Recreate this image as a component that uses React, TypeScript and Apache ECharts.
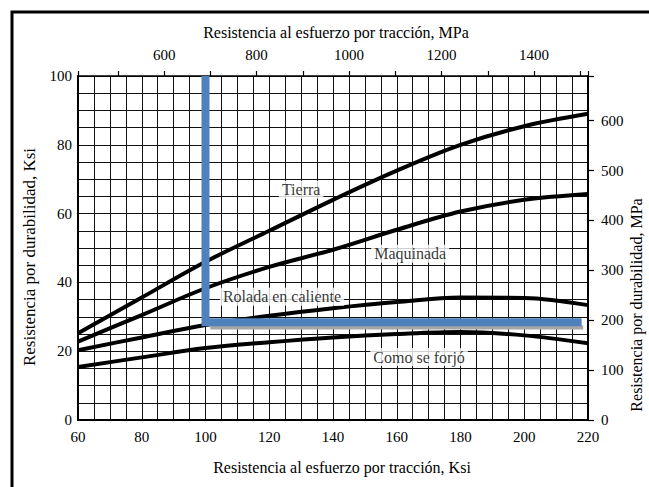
import React, { useEffect, useRef } from 'react';
import * as echarts from 'echarts';

const KSI_TO_MPA = 6.894757;
const FONT = "'Liberation Serif', 'Times New Roman', serif";

// Curves (x: tensile strength, ksi ; y: endurance strength, ksi)
const curveX = [60, 80, 100, 120, 140, 160, 180, 200, 220];
const tierra = [25.2, 35.6, 46, 55, 64, 72.5, 80, 85.4, 89];
const maquinada = [22.8, 30.5, 38.3, 44.5, 49.5, 55.3, 60.6, 64, 65.7];
const rolada = [20.3, 24, 27.6, 30.3, 32.5, 34.3, 35.6, 35.5, 33.4];
const forjo = [15.4, 18.2, 20.9, 22.6, 24, 25, 25.6, 24.6, 22.3];
const curveNames = ['Tierra', 'Maquinada', 'Rolada en caliente', 'Como se forjó'];
const curveLabelX = [130, 164.2, 124, 167];
const curveLabelY = [66.9, 48.3, 35.8, 18.3];

// Highlight guide (blue) and its grey shadow
const guideX = [100, 100, 218];
const guideY = [100, 28.4, 28.4];
const shadowX = [101.5, 218.5];
const shadowY = [26.9, 26.9];

// Axis ranges
const ksiXMin = 60, ksiXMax = 220, ksiXStep = 20;
const ksiYMin = 0, ksiYMax = 100, ksiYStep = 20;
const topLabels = [600, 800, 1000, 1200, 1400];
const rightLabels = [0, 100, 200, 300, 400, 500, 600];

const titleTop = 'Resistencia al esfuerzo por tracción, MPa';
const titleBottom = 'Resistencia al esfuerzo por tracción, Ksi';
const titleLeft = 'Resistencia por durabilidad, Ksi';
const titleRight = 'Resistencia por durabilidad, MPa';

export default function App() {
  const ref = useRef<HTMLDivElement>(null);
  useEffect(() => {
    if (!ref.current) return;
    const chart = echarts.init(ref.current, null, { renderer: 'svg' });
    const zip = (xs: number[], ys: number[]) => xs.map((x, i) => [x, ys[i]]);
    const curveData = [tierra, maquinada, rolada, forjo];
    const gridLine = { show: true, lineStyle: { color: '#111', width: 1 } };
    const lbl = { fontFamily: FONT, fontSize: 15, color: '#000' };
    const isWhole = (v: number, list: number[]) =>
      Math.abs(v - Math.round(v)) < 1e-6 && list.includes(Math.round(v));

    chart.setOption({
      animation: false,
      backgroundColor: '#fff',
      textStyle: { fontFamily: FONT },
      grid: { left: 78, top: 76, width: 510, height: 344, containLabel: false },
      xAxis: [
        {
          type: 'value', position: 'bottom', min: ksiXMin, max: ksiXMax, interval: ksiXStep,
          axisLine: { show: true, lineStyle: { color: '#000', width: 2 } },
          axisTick: { show: false },
          axisLabel: { ...lbl, margin: 9 },
          splitLine: gridLine,
          minorTick: { show: false, splitNumber: 4 },
          minorSplitLine: gridLine,
        },
        {
          type: 'value', position: 'top', min: ksiXMin * KSI_TO_MPA, max: ksiXMax * KSI_TO_MPA,
          splitNumber: 11, minInterval: 100, maxInterval: 100,
          axisLine: { show: true, onZero: false, lineStyle: { color: '#000', width: 1.5 } },
          axisTick: { show: true, inside: false, length: 5, lineStyle: { color: '#000', width: 1.2 } },
          axisLabel: {
            ...lbl, margin: 14,
            formatter: (v: number) => (isWhole(v, topLabels) ? String(Math.round(v)) : ''),
          },
          splitLine: { show: false },
        },
      ],
      yAxis: [
        {
          type: 'value', position: 'left', min: ksiYMin, max: ksiYMax, interval: ksiYStep,
          axisLine: { show: true, lineStyle: { color: '#000', width: 2 } },
          axisTick: { show: false },
          axisLabel: { ...lbl, margin: 6 },
          splitLine: gridLine,
          minorTick: { show: false, splitNumber: 4 },
          minorSplitLine: gridLine,
        },
        {
          type: 'value', position: 'right', min: 0, max: ksiYMax * KSI_TO_MPA, interval: 100,
          axisLine: { show: true, onZero: false, lineStyle: { color: '#000', width: 2 } },
          axisTick: { show: true, inside: false, length: 6, lineStyle: { color: '#000', width: 1.2 } },
          axisLabel: {
            ...lbl, margin: 13,
            formatter: (v: number) => (isWhole(v, rightLabels) ? String(Math.round(v)) : ''),
          },
          splitLine: { show: false },
        },
      ],
      graphic: [
        { type: 'rect', shape: { x: 12, y: 12, width: 700, height: 600 }, style: { fill: 'none', stroke: '#000', lineWidth: 3 }, silent: true },
        { type: 'text', x: 336, y: 32, style: { text: titleTop, fontFamily: FONT, fontSize: 16, fill: '#000', align: 'center', verticalAlign: 'middle' } },
        { type: 'text', x: 342, y: 467, style: { text: titleBottom, fontFamily: FONT, fontSize: 16, fill: '#000', align: 'center', verticalAlign: 'middle' } },
        { type: 'text', x: 29.5, y: 257, rotation: Math.PI / 2, style: { text: titleLeft, fontFamily: FONT, fontSize: 17, fill: '#000', align: 'center', verticalAlign: 'middle' } },
        { type: 'text', x: 636, y: 305, rotation: Math.PI / 2, style: { text: titleRight, fontFamily: FONT, fontSize: 16, fill: '#000', align: 'center', verticalAlign: 'middle' } },
      ],
      series: [
        ...curveData.map((ys, i) => ({
          type: 'line', name: curveNames[i], xAxisIndex: 0, yAxisIndex: 0,
          data: zip(curveX, ys), smooth: 0.35, showSymbol: false, symbol: 'none',
          lineStyle: { color: '#000', width: 4 }, z: 3,
        })),
        {
          type: 'line', name: 'shadow', xAxisIndex: 0, yAxisIndex: 0, data: zip(shadowX, shadowY),
          symbol: 'none', lineStyle: { color: '#a6a6a6', width: 4, cap: 'butt' }, z: 4,
        },
        {
          type: 'line', name: 'guide', xAxisIndex: 0, yAxisIndex: 0, data: zip(guideX, guideY),
          symbol: 'none', lineStyle: { color: '#4F81BD', width: 8, cap: 'butt', join: 'miter' }, z: 5,
        },
        {
          type: 'scatter', name: 'labels', xAxisIndex: 0, yAxisIndex: 0, symbolSize: 0, z: 6,
          data: curveLabelX.map((x, i) => ({ value: [x, curveLabelY[i]], name: curveNames[i] })),
          label: {
            show: true, position: 'inside', formatter: '{b}', fontFamily: FONT, fontSize: 16, color: '#000',
            backgroundColor: '#fff', padding: [1, 3],
          },
        },
      ],
    });
    return () => chart.dispose();
  }, []);
  return <div ref={ref} style={{ position: 'fixed', left: 0, top: 0, width: 649, height: 487 }} />;
}
